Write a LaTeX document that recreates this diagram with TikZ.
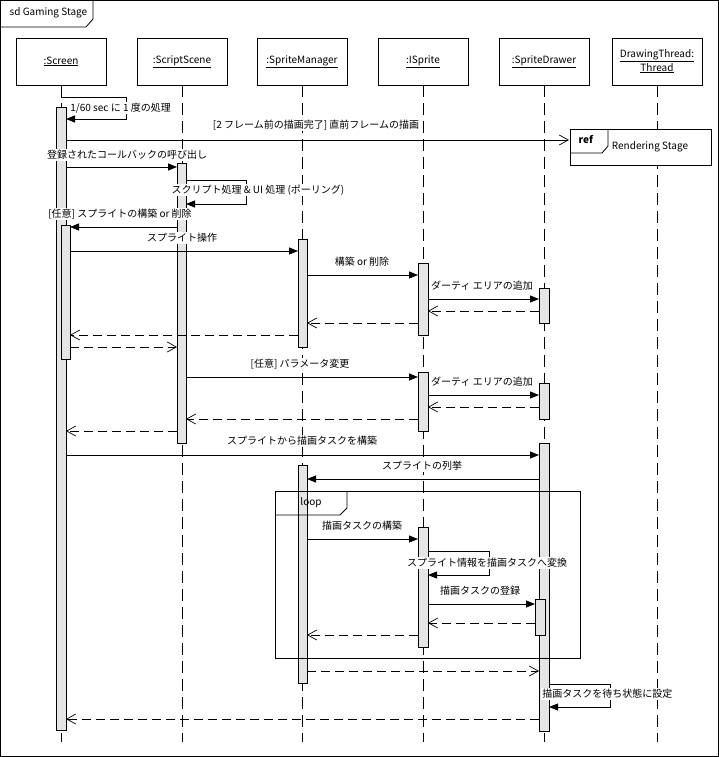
\documentclass[tikz,border=0pt]{standalone}
\usepackage{fontspec}
\setmainfont{Noto Sans CJK JP}
\usetikzlibrary{arrows.meta}
\begin{document}
\begin{tikzpicture}[x=1pt,y=-1pt,line width=0.8pt,
  font=\fontsize{10pt}{11pt}\selectfont,
  head/.style={draw,minimum width=90pt,minimum height=47pt,align=center,inner sep=0},
  life/.style={dash pattern=on 12pt off 6pt},
  bar/.style={draw,fill=black!10},
  msg/.style={-{Triangle[length=9pt,width=7pt]}},
  ret/.style={dash pattern=on 9pt off 5pt,-{Straight Barb[length=9pt,width=10pt,line width=0.7pt]}},
  async/.style={-{Straight Barb[length=9pt,width=10pt,line width=0.7pt]}},
  lbl/.style={fill=white,inner sep=1pt}]
\useasboundingbox (0,0) rectangle (719,757);
\draw (0.5,0.5) rectangle (718.5,756.5);
\draw (0.5,27) -- (86,27) -- (93,19) -- (93,0.5);
\node[anchor=west] (sd) at (6,13) {sd Gaming Stage};
% heads
\foreach \n/\x/\t in {scr/61/\underline{:Screen},ss/182/\underline{:ScriptScene},sm/302/\underline{:SpriteManager},is/423/\underline{:ISprite},sdr/544/\underline{:SpriteDrawer},dt/657/{\underline{DrawingThread:}\\\underline{Thread}}}{
  \node[head] (\n) at (\x,61.5) {\t};
  \draw[life] (\n.south) -- (\x,742);
}
% ref
\draw[fill=white] (570,129) rectangle (711,165);
\draw (570,153) -- (602,153) -- (608,146) -- (608,129);
\node (refl) at (586,140) {\textbf{ref}};
\node (refn) at (650,147) {Rendering Stage};
% bars
\draw[bar] (56,107) rectangle (66,730);
\draw[bar] (61,225) rectangle (70,359);
\draw[bar] (177,163) rectangle (186,443);
\draw[bar] (298,239) rectangle (307,347);
\draw[bar] (298,465) rectangle (307,683);
\draw[bar] (418,263) rectangle (428,335);
\draw[bar] (418,372) rectangle (428,431);
\draw[bar] (418,527) rectangle (428,647);
\draw[bar] (539,288) rectangle (549,323);
\draw[bar] (539,383) rectangle (549,419);
\draw[bar] (539,443) rectangle (549,731);
\draw[bar] (535,599) rectangle (545,635);
% loop
\draw (275,491) rectangle (580,658);
\draw (275,515) -- (340,515) -- (347,508) -- (347,491);
\node (loopl) at (311,503) {loop};
% messages
\draw[msg] (61,97) -- (126,97) -- (126,119) -- (66,119);
\node[lbl,anchor=west] at (69,108) {1/60 sec に 1 度の処理};
\draw[async] (66,140) -- (569,140);
\node[lbl] at (316,125) {[2 フレーム前の描画完了] 直前フレームの描画};
\draw[msg] (66,167) -- (177,167);
\node[lbl] at (127,155) {登録されたコールバックの呼び出し};
\draw[msg] (186,180) -- (246,180) -- (246,204) -- (186,204);
\node[lbl] at (258,190) {スクリプト処理 \& UI 処理 (ポーリング)};
\draw[msg] (177,227) -- (70,227);
\node[lbl] at (120,214) {[任意] スプライトの構築 or 削除};
\draw[msg] (70,251) -- (298,251);
\node[lbl] at (182,238) {スプライト操作};
\draw[msg] (307,275) -- (418,275);
\node[lbl] at (362,262) {構築 or 削除};
\draw[msg] (428,299) -- (539,299);
\node[lbl] at (482,286) {ダーティ エリアの追加};
\draw[ret] (539,311) -- (428,311);
\draw[ret] (418,323) -- (307,323);
\draw[ret] (298,335) -- (70,335);
\draw[ret] (70,347) -- (177,347);
\draw[msg] (186,377) -- (418,377);
\node[lbl] at (300,364) {[任意] パラメータ変更};
\draw[msg] (428,395) -- (539,395);
\node[lbl] at (482,382) {ダーティ エリアの追加};
\draw[ret] (539,407) -- (428,407);
\draw[ret] (418,419) -- (186,419);
\draw[ret] (177,431) -- (66,431);
\draw[msg] (66,455) -- (539,455);
\node[lbl] at (302,441) {スプライトから描画タスクを構築};
\draw[msg] (539,479) -- (307,479);
\node[lbl] at (422,466) {スプライトの列挙};
\draw[msg] (307,539) -- (418,539);
\node[lbl] at (362,526) {描画タスクの構築};
\draw[msg] (428,551) -- (489,551) -- (489,575) -- (428,575);
\node[lbl] at (487,563) {スプライト情報を描画タスクへ変換};
\draw[msg] (428,604) -- (535,604);
\node[lbl] at (480,591) {描画タスクの登録};
\draw[ret] (535,623) -- (428,623);
\draw[ret] (418,635) -- (307,635);
\draw[ret] (307,671) -- (539,671);
\draw[msg] (549,684) -- (610,684) -- (610,707) -- (549,707);
\node[lbl,anchor=west] at (541,694) {描画タスクを待ち状態に設定};
\draw[ret] (539,719) -- (66,719);
\end{tikzpicture}
\end{document}
